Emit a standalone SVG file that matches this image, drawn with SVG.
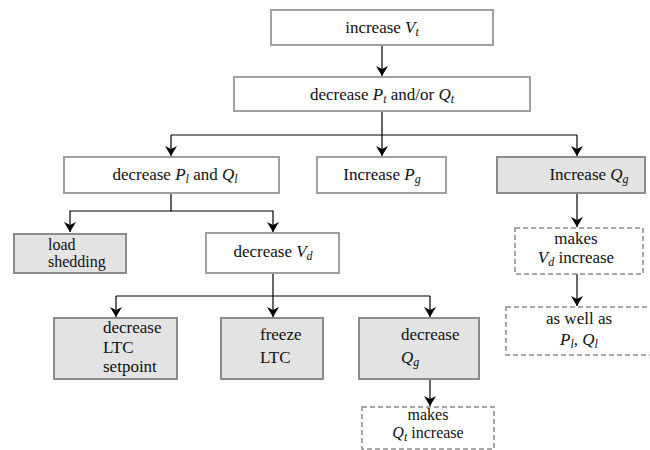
<svg xmlns="http://www.w3.org/2000/svg" width="650" height="450" viewBox="0 0 650 450">
  <defs>
    <marker id="arr" viewBox="0 0 10 12" refX="10" refY="6" markerWidth="10" markerHeight="12" markerUnits="userSpaceOnUse" orient="auto">
      <path d="M0,0 L10,6 L0,12 L3,6 Z" fill="#000"/>
    </marker>
    <style>
      text { font-family: 'Liberation Serif', 'Times New Roman', serif; font-size: 17px; fill: #111; }
      .m { text-anchor: middle; }
      .i { font-style: italic; }
      .sub { font-size: 12px; font-style: italic; }
      .tight { font-size: 16px; }
      .plain { fill: #fff; stroke: #a0a0a0; stroke-width: 2; }
      .grey { fill: #e3e3e3; stroke: #8c8c8c; stroke-width: 2; }
      .dash { fill: #fff; stroke: #8c8c8c; stroke-width: 1.5; stroke-dasharray: 5 3; }
      .wire { fill: none; stroke: #000; stroke-width: 1.2; }
    </style>
  </defs>

  <g id="connectors">
    <path class="wire" d="M382,45 V76" marker-end="url(#arr)"/>
    <path class="wire" d="M382,111 V135"/>
    <path class="wire" d="M171,135 H577"/>
    <path class="wire" d="M171,135 V156" marker-end="url(#arr)"/>
    <path class="wire" d="M382,135 V156" marker-end="url(#arr)"/>
    <path class="wire" d="M577,135 V156" marker-end="url(#arr)"/>
    <path class="wire" d="M171,193 V211 H70 V232" marker-end="url(#arr)"/>
    <path class="wire" d="M171,211 H273 V232" marker-end="url(#arr)"/>
    <path class="wire" d="M273,273 V317" marker-end="url(#arr)"/>
    <path class="wire" d="M116,296 H430"/>
    <path class="wire" d="M116,296 V317" marker-end="url(#arr)"/>
    <path class="wire" d="M430,296 V317" marker-end="url(#arr)"/>
    <path class="wire" d="M430,379 V406" marker-end="url(#arr)"/>
    <path class="wire" d="M577,193 V227" marker-end="url(#arr)"/>
    <path class="wire" d="M577,274 V306" marker-end="url(#arr)"/>
  </g>

  <g id="increase-vt">
    <rect class="plain" x="271" y="10" width="222" height="35"/>
    <text class="m" x="382" y="33">increase <tspan class="i">V</tspan><tspan class="sub" dy="3">t</tspan></text>
  </g>

  <g id="decrease-pt-qt">
    <rect class="plain" x="234" y="77" width="296" height="34"/>
    <text class="m" x="382" y="100">decrease <tspan class="i">P</tspan><tspan class="sub" dy="3">t</tspan><tspan dy="-3"> and/or </tspan><tspan class="i">Q</tspan><tspan class="sub" dy="3">t</tspan></text>
  </g>

  <g id="decrease-pl-ql">
    <rect class="plain" x="64" y="157" width="215" height="36"/>
    <text class="m" x="175" y="180">decrease <tspan class="i">P</tspan><tspan class="sub" dy="3">l</tspan><tspan dy="-3"> and </tspan><tspan class="i">Q</tspan><tspan class="sub" dy="3">l</tspan></text>
  </g>

  <g id="increase-pg">
    <rect class="plain" x="317" y="157" width="129" height="36"/>
    <text class="m" x="382" y="180">Increase <tspan class="i">P</tspan><tspan class="sub" dy="3">g</tspan></text>
  </g>

  <g id="increase-qg">
    <rect class="grey" x="497" y="157" width="148" height="36"/>
    <text class="m" x="589" y="180">Increase <tspan class="i">Q</tspan><tspan class="sub" dy="3">g</tspan></text>
  </g>

  <g id="load-shedding">
    <rect class="grey" x="14" y="234" width="112" height="39"/>
    <text class="tight" x="48" y="250">load</text>
    <text class="tight" x="48" y="267">shedding</text>
  </g>

  <g id="decrease-vd">
    <rect class="plain" x="206" y="233" width="133" height="40"/>
    <text class="m" x="273" y="257">decrease <tspan class="i">V</tspan><tspan class="sub" dy="3">d</tspan></text>
  </g>

  <g id="decrease-ltc-setpoint">
    <rect class="grey" x="54" y="318" width="123" height="61"/>
    <text x="103" y="333">decrease</text>
    <text x="103" y="353">LTC</text>
    <text x="103" y="372">setpoint</text>
  </g>

  <g id="freeze-ltc">
    <rect class="grey" x="221" y="318" width="102" height="61"/>
    <text x="260" y="340">freeze</text>
    <text x="260" y="363">LTC</text>
  </g>

  <g id="decrease-qg">
    <rect class="grey" x="359" y="318" width="120" height="61"/>
    <text x="401" y="340">decrease</text>
    <text x="401" y="363"><tspan class="i">Q</tspan><tspan class="sub" dy="3">g</tspan></text>
  </g>

  <g id="makes-qt-increase">
    <rect class="dash" x="362" y="407" width="132" height="42"/>
    <text class="m tight" x="428" y="420">makes</text>
    <text class="m tight" x="428" y="438"><tspan class="i">Q</tspan><tspan class="sub" dy="3">t</tspan><tspan dy="-3"> increase</tspan></text>
  </g>

  <g id="makes-vd-increase">
    <rect class="dash" x="515" y="228" width="128" height="46"/>
    <text class="m" x="576" y="244">makes</text>
    <text class="m" x="576" y="263"><tspan class="i">V</tspan><tspan class="sub" dy="3">d</tspan><tspan dy="-3"> increase</tspan></text>
  </g>

  <g id="as-well-as">
    <rect class="dash" x="506" y="307" width="150" height="48"/>
    <text class="m" x="579" y="324">as well as</text>
    <text class="m" x="579" y="345"><tspan class="i">P</tspan><tspan class="sub" dy="3">l</tspan><tspan dy="-3">, </tspan><tspan class="i">Q</tspan><tspan class="sub" dy="3">l</tspan></text>
  </g>
</svg>
